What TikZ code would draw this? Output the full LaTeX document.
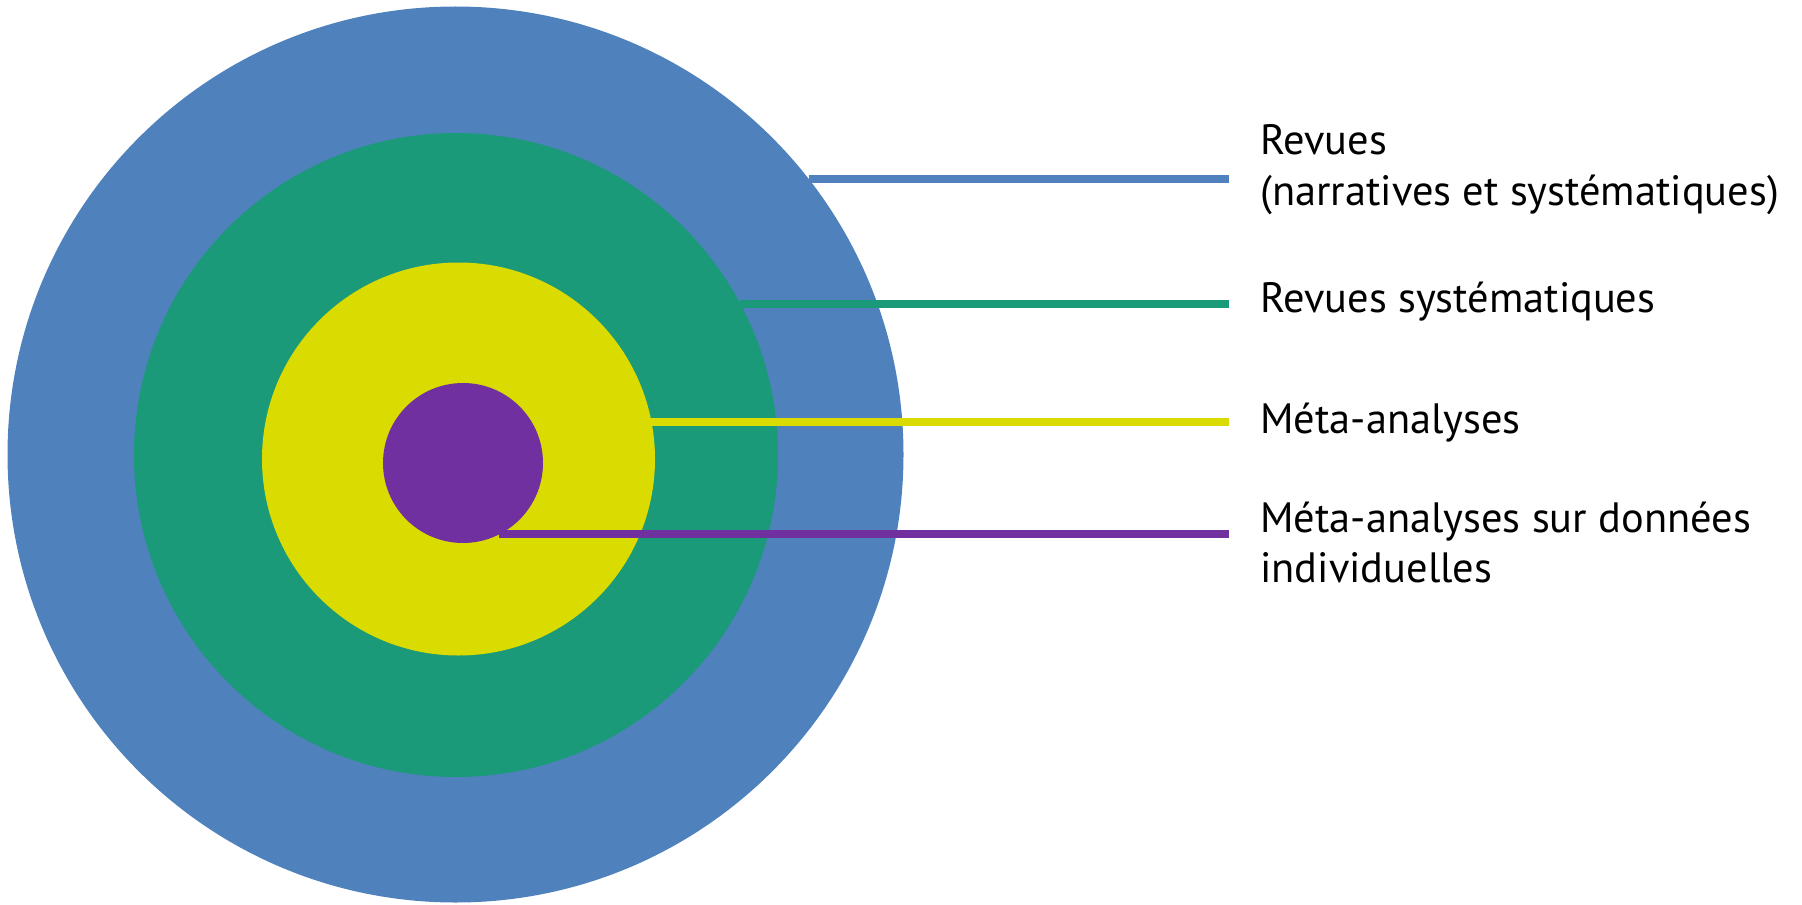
\documentclass[tikz,border=0pt]{standalone}
\usepackage{fontspec}
\setmainfont{PT Sans}
\definecolor{ringblue}{RGB}{79,129,189}
\definecolor{ringgreen}{RGB}{27,154,122}
\definecolor{ringyellow}{RGB}{218,219,0}
\definecolor{ringpurple}{RGB}{112,48,160}
\tikzset{
  ring/.style={circle,inner sep=0pt,outer sep=0pt,draw=none},
  link/.style={line width=4pt,line cap=butt},
  label/.style={anchor=base west,align=left,inner sep=0pt,
    font=\fontsize{21.2}{25}\selectfont}
}
\begin{document}
\begin{tikzpicture}[x=0.5pt,y=-0.5pt]
\useasboundingbox (0,0) rectangle (1802,904);

\node [ring,fill=ringblue,minimum size=448pt] (revues) at (455.5,454.5) {};
\node [ring,fill=ringgreen,minimum size=322pt] (systematiques) at (456,455) {};
\node [ring,fill=ringyellow,minimum size=196.5pt] (meta) at (458.5,459) {};
\node [ring,fill=ringpurple,minimum size=80pt] (individuelles) at (463,463) {};

\coordinate (stop) at (1229,0);

% base west sits on the last line of each label
\node [label] (l1) at (1260,205) {Revues\\(narratives et systématiques)};
\node [label] (l2) at (1260,312) {Revues systématiques};
\node [label] (l3) at (1260,433) {Méta-analyses};
\node [label] (l4) at (1260,582) {Méta-analyses sur données\\individuelles};

\draw [link,ringblue] (revues.38.3) -- (revues.38.3 -| stop);
\draw [link,ringgreen] (systematiques.28.4) -- (systematiques.28.4 -| stop);
\draw [link,ringyellow] (meta.11.1) -- (meta.11.1 -| stop);
\draw [link,ringpurple] (individuelles.-63) -- (individuelles.-63 -| stop);
\end{tikzpicture}
\end{document}
